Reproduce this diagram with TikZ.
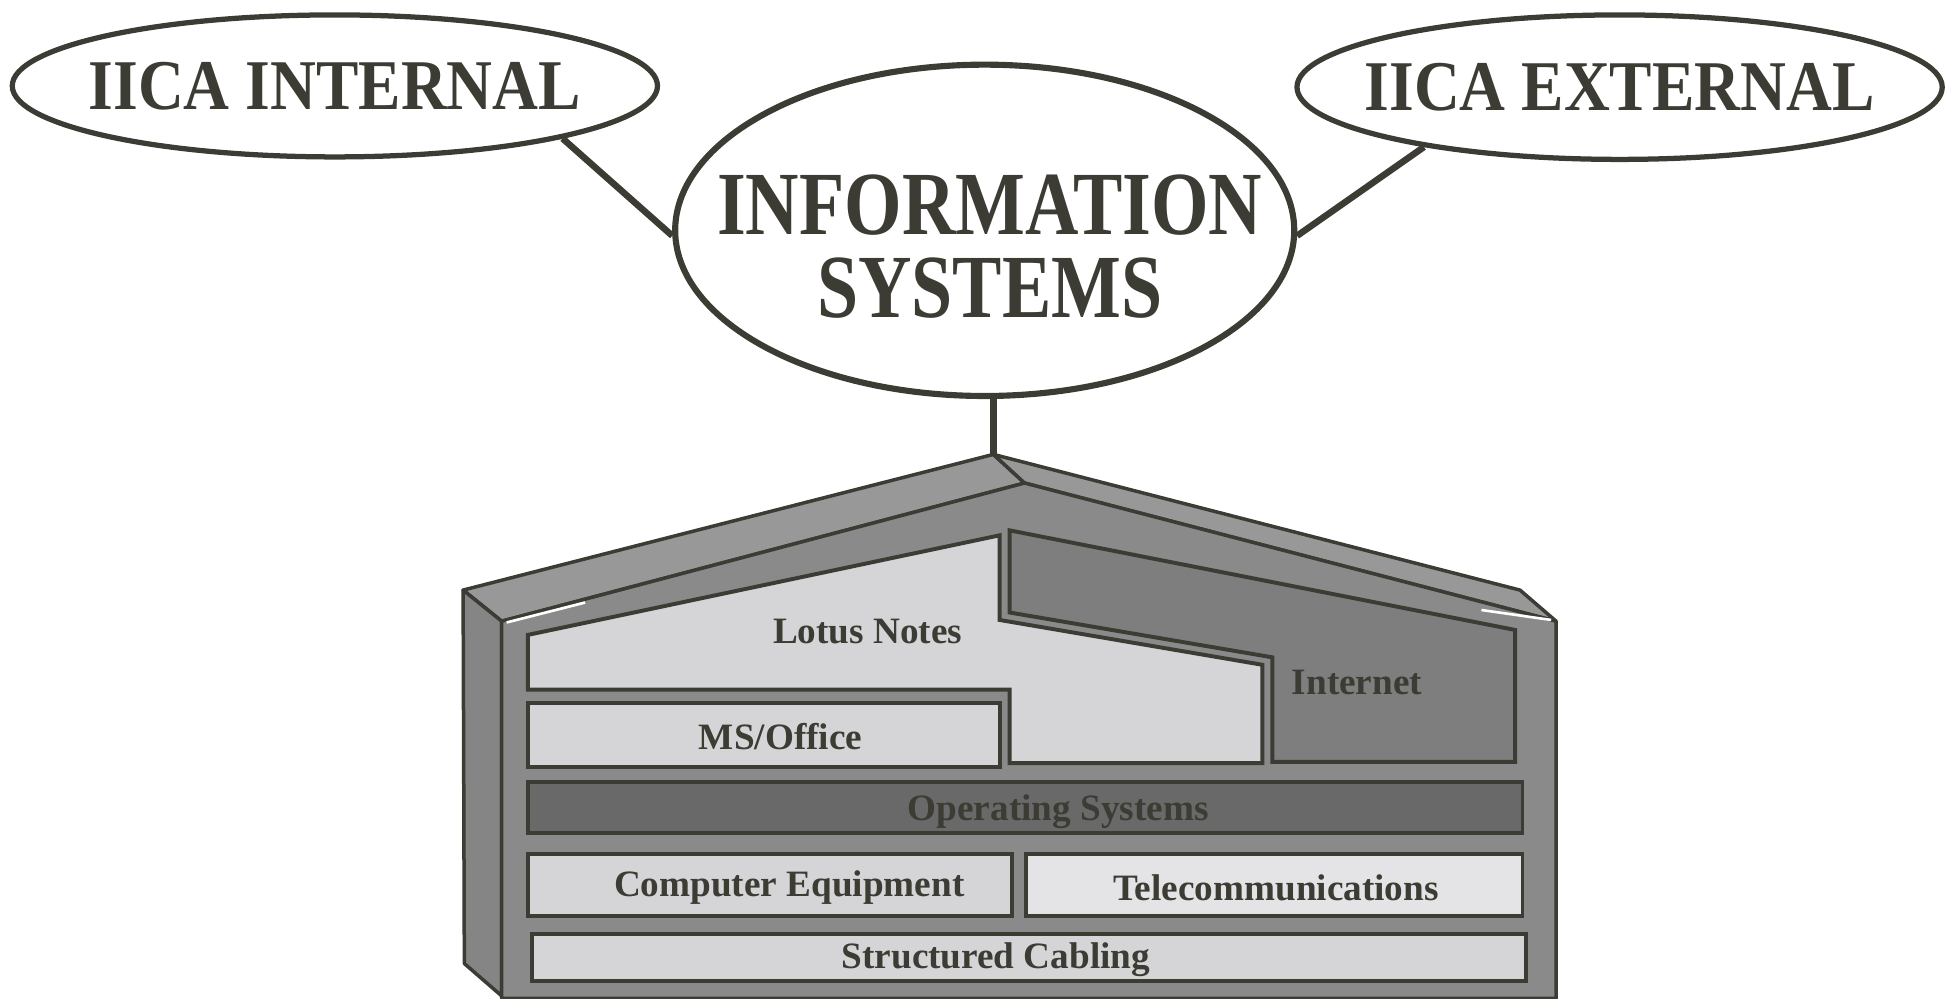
\documentclass[tikz,border=0pt]{standalone}
\usepackage{fontspec}
\setmainfont{Liberation Serif}
\newfontfamily\ovalfont[FakeStretch=0.89]{Liberation Serif}
\newfontfamily\hubfont[FakeStretch=0.82]{Liberation Serif}
\usetikzlibrary{shapes.geometric}
\definecolor{ink}{HTML}{3C3C34}
\definecolor{wall}{HTML}{8A8A8A}
\definecolor{roof}{HTML}{989898}
\definecolor{side}{HTML}{858585}
\definecolor{pale}{HTML}{D5D5D8}
\definecolor{paler}{HTML}{E4E4E6}
\definecolor{net}{HTML}{7E7E7E}
\definecolor{deep}{HTML}{696969}

\begin{document}
\begin{tikzpicture}[x=0.01cm,y=-0.01cm,
  oval/.style={ellipse,draw=ink,line width=1.2pt,inner sep=0pt},
  ovaltext/.style={text=ink,font=\ovalfont\bfseries\fontsize{16.3}{18}\selectfont},
  link/.style={draw=ink,line width=1.5pt},
  face/.style={draw=ink,line width=0.8pt,line join=round},
  panel/.style={draw=ink,line width=0.9pt},
  tag/.style={text=ink,font=\bfseries\fontsize{8.5}{10}\selectfont}]
\useasboundingbox (0,0) rectangle (1568,802);

% the three ovals
\node[oval,minimum width=5.18cm,minimum height=1.14cm] (intern) at (269,69) {};
\node[ovaltext] (interntext) at (intern) {IICA INTERNAL};
\node[oval,minimum width=5.18cm,minimum height=1.16cm] (extern) at (1301,70) {};
\node[ovaltext] (externtext) at (extern) {IICA EXTERNAL};
\node[oval,line width=1.4pt,minimum width=4.97cm,minimum height=2.66cm] (info) at (791,185) {};
\node[text=ink,align=center,font=\hubfont\bfseries\fontsize{20.6}{19}\selectfont] (infotext) at (795,198) {INFORMATION\\SYSTEMS};

\coordinate (apex) at (798,365);
\draw[link] (intern.-13) -- (info.181);
\draw[link] (extern.197) -- (info.-1);
\draw[link] (apex |- info.south) -- (apex);

% house
\filldraw[face,fill=roof] (372,474) -- (apex) -- (823,388) -- (403,499) -- cycle;
\filldraw[face,fill=roof] (apex) -- (1221,474) -- (1250,499) -- (823,388) -- cycle;
\filldraw[face,fill=side] (372,474) -- (403,499) -- (403,800) -- (373,774) -- cycle;
\filldraw[face,fill=wall] (403,499) -- (823,388) -- (1250,499) -- (1250,802) -- (403,802) -- cycle;
\draw[white,line width=0.6pt] (407,500) -- (470,484);
\draw[white,line width=0.6pt] (1190,490) -- (1246,498);

% panels
\filldraw[panel,fill=pale] (424,510) -- (803,430) -- (803,498) -- (1014,534) -- (1014,613)
  -- (811,613) -- (811,554) -- (424,554) -- cycle;
\filldraw[panel,fill=net] (811,426) -- (1217,506) -- (1217,612) -- (1022,612) -- (1022,528)
  -- (811,492) -- cycle;
\filldraw[panel,fill=pale] (424,565) rectangle (803,616);
\filldraw[panel,fill=deep] (424,628) rectangle (1223,669);
\filldraw[panel,fill=pale] (424,686) rectangle (813,736);
\filldraw[panel,fill=paler] (824,686) rectangle (1223,736);
\filldraw[panel,fill=pale] (427,750) rectangle (1226,788);

\node[tag] (lotus) at (697,507) {Lotus Notes};
\node[tag] (office) at (627,592) {MS/Office};
\node[tag] (web) at (1090,548) {Internet};
\node[tag] (os) at (850,652) {Operating Systems};
\node[tag] (hardware) at (634,713) {Computer Equipment};
\node[tag] (telecom) at (1025,713) {Telecommunications};
\node[tag] (cabling) at (800,771) {Structured Cabling};
\end{tikzpicture}
\end{document}
